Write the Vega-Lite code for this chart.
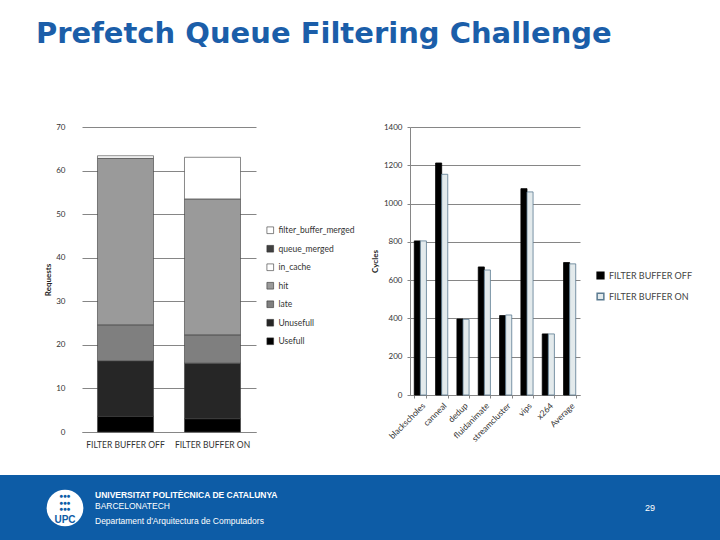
{
  "$schema": "https://vega.github.io/schema/vega-lite/v6.json",
  "background": "white",
  "padding": {"left": 0, "top": 20, "right": 0, "bottom": 0},
  "title": {
    "text": "Prefetch Queue Filtering Challenge",
    "anchor": "start",
    "dx": 36,
    "font": "DejaVu Sans",
    "fontSize": 29,
    "fontWeight": "bold",
    "color": "#1b5ea9",
    "offset": 74
  },
  "config": {
    "view": {"stroke": null},
    "font": "Lato",
    "axis": {"labelFont": "Lato", "titleFont": "Lato", "labelColor": "#333333", "titleColor": "#222222"},
    "legend": {"labelFont": "Lato"}
  },
  "datasets": {
    "stackRank": [
      {"category": "Usefull", "rank": 1},
      {"category": "Unusefull", "rank": 2},
      {"category": "late", "rank": 3},
      {"category": "hit", "rank": 4},
      {"category": "in_cache", "rank": 5},
      {"category": "queue_merged", "rank": 6},
      {"category": "filter_buffer_merged", "rank": 7}
    ]
  },
  "spacing": 26,
  "resolve": {"scale": {"color": "independent", "stroke": "independent"}, "legend": {"color": "independent", "stroke": "independent"}},
  "vconcat": [
    {
      "spacing": 16,
      "resolve": {"scale": {"color": "independent", "stroke": "independent"}, "legend": {"color": "independent", "stroke": "independent"}},
      "hconcat": [
        {
          "width": 28,
          "height": 10,
          "data": {"values": [{}]},
          "mark": {"type": "text", "text": ""},
          "encoding": {}
        },
        {
          "width": 174,
          "height": 305,
          "data": {
            "values": [
              {"config": "FILTER BUFFER OFF", "category": "Usefull", "requests": 3.6},
              {"config": "FILTER BUFFER OFF", "category": "Unusefull", "requests": 12.7},
              {"config": "FILTER BUFFER OFF", "category": "late", "requests": 8.3},
              {"config": "FILTER BUFFER OFF", "category": "hit", "requests": 38.2},
              {"config": "FILTER BUFFER OFF", "category": "in_cache", "requests": 0.6},
              {"config": "FILTER BUFFER ON", "category": "Usefull", "requests": 3.05},
              {"config": "FILTER BUFFER ON", "category": "Unusefull", "requests": 12.75},
              {"config": "FILTER BUFFER ON", "category": "late", "requests": 6.5},
              {"config": "FILTER BUFFER ON", "category": "hit", "requests": 31.2},
              {"config": "FILTER BUFFER ON", "category": "filter_buffer_merged", "requests": 9.55}
            ]
          },
          "transform": [
            {"lookup": "category", "from": {"data": {"name": "stackRank"}, "key": "category", "fields": ["rank"]}}
          ],
          "mark": {"type": "bar", "stroke": "#3a3a3a", "strokeWidth": 0.6},
          "encoding": {
            "x": {
              "field": "config",
              "type": "nominal",
              "sort": ["FILTER BUFFER OFF", "FILTER BUFFER ON"],
              "scale": {"paddingInner": 0.356, "paddingOuter": 0.178},
              "axis": {"title": null, "labelAngle": 0, "labelFontSize": 8.5, "ticks": false, "domainColor": "#868686", "labelPadding": 8}
            },
            "y": {
              "field": "requests",
              "type": "quantitative",
              "stack": "zero",
              "scale": {"domain": [0, 70]},
              "axis": {
                "values": [0, 10, 20, 30, 40, 50, 60, 70],
                "title": "Requests",
                "titleFontSize": 8,
                "titleFontWeight": "bold",
                "titlePadding": 3,
                "domain": false,
                "ticks": false,
                "gridColor": "#868686",
                "labelFontSize": 8,
                "labelPadding": 17
              }
            },
            "order": {"field": "rank", "type": "quantitative", "sort": "ascending"},
            "color": {
              "field": "category",
              "type": "nominal",
              "scale": {
                "domain": ["filter_buffer_merged", "queue_merged", "in_cache", "hit", "late", "Unusefull", "Usefull"],
                "range": ["#ffffff", "#404040", "#ffffff", "#9a9a9a", "#7f7f7f", "#262626", "#000000"]
              },
              "legend": {
                "title": null,
                "orient": "none",
                "legendX": 184,
                "legendY": 99,
                "symbolType": "square",
                "symbolSize": 45,
                "symbolStrokeColor": "#333333",
                "symbolStrokeWidth": 0.6,
                "labelFontSize": 8.5,
                "labelColor": "#333333",
                "labelLimit": 82,
                "rowPadding": 8.5
              }
            }
          }
        },
        {
          "width": 170,
          "height": 268,
          "data": {
            "values": [
              {"bench": "blackscholes", "mode": "FILTER BUFFER OFF", "cycles": 805},
              {"bench": "blackscholes", "mode": "FILTER BUFFER ON", "cycles": 805},
              {"bench": "canneal", "mode": "FILTER BUFFER OFF", "cycles": 1212},
              {"bench": "canneal", "mode": "FILTER BUFFER ON", "cycles": 1153},
              {"bench": "dedup", "mode": "FILTER BUFFER OFF", "cycles": 397},
              {"bench": "dedup", "mode": "FILTER BUFFER ON", "cycles": 395},
              {"bench": "fluidanimate", "mode": "FILTER BUFFER OFF", "cycles": 669},
              {"bench": "fluidanimate", "mode": "FILTER BUFFER ON", "cycles": 653},
              {"bench": "streamcluster", "mode": "FILTER BUFFER OFF", "cycles": 415},
              {"bench": "streamcluster", "mode": "FILTER BUFFER ON", "cycles": 418},
              {"bench": "vips", "mode": "FILTER BUFFER OFF", "cycles": 1078},
              {"bench": "vips", "mode": "FILTER BUFFER ON", "cycles": 1061},
              {"bench": "x264", "mode": "FILTER BUFFER OFF", "cycles": 319},
              {"bench": "x264", "mode": "FILTER BUFFER ON", "cycles": 319},
              {"bench": "Average", "mode": "FILTER BUFFER OFF", "cycles": 692},
              {"bench": "Average", "mode": "FILTER BUFFER ON", "cycles": 685}
            ]
          },
          "mark": {"type": "bar", "strokeWidth": 0.8},
          "encoding": {
            "x": {
              "field": "bench",
              "type": "nominal",
              "sort": ["blackscholes", "canneal", "dedup", "fluidanimate", "streamcluster", "vips", "x264", "Average"],
              "scale": {"paddingInner": 0.43, "paddingOuter": 0.2},
              "axis": {"title": null, "labelAngle": -45, "labelFontSize": 8.5, "tickBand": "extent", "tickSize": 3, "tickColor": "#868686", "domainColor": "#868686", "labelPadding": 3}
            },
            "xOffset": {"field": "mode", "type": "nominal", "sort": ["FILTER BUFFER OFF", "FILTER BUFFER ON"], "scale": {"paddingInner": 0}},
            "y": {
              "field": "cycles",
              "type": "quantitative",
              "scale": {"domain": [0, 1400]},
              "axis": {
                "values": [0, 200, 400, 600, 800, 1000, 1200, 1400],
                "format": "d",
                "title": "Cycles",
                "titleFontSize": 8,
                "titleFontWeight": "bold",
                "titlePadding": 4,
                "domainColor": "#868686",
                "tickColor": "#868686",
                "tickSize": 3,
                "gridColor": "#868686",
                "labelFontSize": 8,
                "labelPadding": 5
              }
            },
            "color": {
              "field": "mode",
              "type": "nominal",
              "scale": {"domain": ["FILTER BUFFER OFF", "FILTER BUFFER ON"], "range": ["#000000", "#e3eaec"]},
              "legend": {
                "title": null,
                "orient": "none",
                "legendX": 186,
                "legendY": 144,
                "symbolType": "square",
                "symbolSize": 45,
                "labelFontSize": 9,
                "labelColor": "#444444",
                "rowPadding": 8
              }
            },
            "stroke": {
              "field": "mode",
              "type": "nominal",
              "scale": {"domain": ["FILTER BUFFER OFF", "FILTER BUFFER ON"], "range": ["#000000", "#5a7a90"]},
              "legend": null
            }
          }
        }
      ]
    },
    {
      "spacing": 0,
      "bounds": "flush",
      "hconcat": [
        {
          "width": 130,
          "height": 66,
          "view": {"fill": "#0d5ca6", "stroke": null},
          "data": {"values": [{"logo": "UPC"}]},
          "layer": [
            {"mark": {"type": "point", "shape": "circle", "size": 1350, "filled": true, "color": "white", "opacity": 1}, "encoding": {}},
            {"mark": {"type": "text", "text": ["●●●", "●●●", "●●●"], "fontSize": 6, "lineHeight": 6.5, "color": "#0d5ca6", "dy": -12}, "encoding": {}},
            {"mark": {"type": "text", "fontSize": 10, "fontWeight": "bold", "font": "Liberation Sans", "color": "#0d5ca6", "dy": 12}, "encoding": {"text": {"field": "logo"}}}
          ]
        },
        {
          "width": 480,
          "height": 66,
          "view": {"fill": "#0d5ca6", "stroke": null},
          "title": {
            "text": "UNIVERSITAT POLITÈCNICA DE CATALUNYA",
            "subtitle": ["BARCELONATECH", "Departament d'Arquitectura de Computadors"],
            "anchor": "start",
            "frame": "group",
            "orient": "top",
            "offset": -50,
            "dx": -35,
            "font": "Liberation Sans",
            "subtitleFont": "Liberation Sans",
            "fontSize": 8.5,
            "subtitleFontSize": 8.5,
            "fontWeight": "bold",
            "color": "white",
            "subtitleColor": "white",
            "subtitlePadding": 2,
            "subtitleLineHeight": 15
          },
          "data": {"values": [{}]},
          "mark": {"type": "text", "text": ""},
          "encoding": {}
        },
        {
          "width": 110,
          "height": 66,
          "view": {"fill": "#0d5ca6", "stroke": null},
          "data": {"values": [{"page": "29"}]},
          "mark": {"type": "text", "fontSize": 9, "font": "Liberation Sans", "color": "white", "dx": -15},
          "encoding": {"text": {"field": "page"}}
        }
      ]
    }
  ]
}
